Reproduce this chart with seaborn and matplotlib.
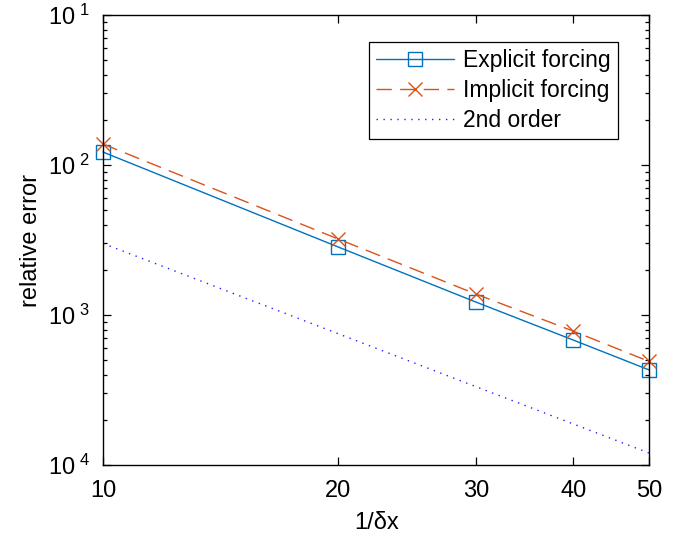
import numpy as np
import pandas as pd
import matplotlib
matplotlib.use("Agg")
import matplotlib.pyplot as plt
import matplotlib.ticker as mticker
import seaborn as sns

# grid resolution 1/dx
n_cells = [10, 20, 30, 40, 50]

# relative errors
explicit_err = [0.0122, 0.00284, 0.00122, 0.00068, 0.00043]
implicit_err = [0.0138, 0.00321, 0.00138, 0.00078, 0.00049]
second_order = [0.003, 0.00075, 0.000333, 0.0001875, 0.00012]

y_ticks = [1e-4, 1e-3, 1e-2, 1e-1]
y_tick_labels = [r"$\mathregular{10^{\ 4}}$", r"$\mathregular{10^{\ 3}}$",
                 r"$\mathregular{10^{\ 2}}$", r"$\mathregular{10^{\ 1}}$"]

sns.set_style("ticks")
plt.rcParams["font.family"] = ["Liberation Sans", "DejaVu Sans"]
plt.rcParams["mathtext.fontset"] = "custom"
plt.rcParams["mathtext.rm"] = "Liberation Sans"
plt.rcParams["xtick.direction"] = "in"
plt.rcParams["ytick.direction"] = "in"
for k in ["text.color", "axes.labelcolor", "xtick.color", "ytick.color", "axes.edgecolor"]:
    plt.rcParams[k] = "black"

df = pd.DataFrame({
    "n": n_cells * 3,
    "err": explicit_err + implicit_err + second_order,
    "series": ["Explicit forcing"] * 5 + ["Implicit forcing"] * 5 + ["2nd order"] * 5,
})

fig = plt.figure(figsize=(6.87, 5.48), dpi=100)
ax = fig.add_axes([0.150, 0.1515, 0.795, 0.821])

sns.lineplot(data=df[df.series == "Explicit forcing"], x="n", y="err", ax=ax,
             color="#0072BD", lw=1.0, marker="s", markersize=10,
             markerfacecolor="none", markeredgecolor="#0072BD", markeredgewidth=1.0,
             label="Explicit forcing", clip_on=False)
sns.lineplot(data=df[df.series == "Implicit forcing"], x="n", y="err", ax=ax,
             color="#D95319", lw=1.0, marker="x", markersize=10,
             markeredgecolor="#D95319", markeredgewidth=1.0, dashes=(11, 6),
             label="Implicit forcing", clip_on=False)
sns.lineplot(data=df[df.series == "2nd order"], x="n", y="err", ax=ax,
             color="#1f1fff", lw=1.0, dashes=(1, 4), label="2nd order")

ax.set_xscale("log")
ax.set_yscale("log")
ax.set_xlim(10, 50)
ax.set_ylim(1e-4, 1e-1)

ax.xaxis.set_major_locator(mticker.FixedLocator(n_cells))
ax.xaxis.set_major_formatter(mticker.FixedFormatter([str(v) for v in n_cells]))
ax.xaxis.set_minor_locator(mticker.LogLocator(base=10, subs=np.arange(2, 10)))
ax.xaxis.set_minor_formatter(mticker.NullFormatter())
ax.yaxis.set_major_locator(mticker.FixedLocator(y_ticks))
ax.yaxis.set_major_formatter(mticker.FixedFormatter(y_tick_labels))
ax.yaxis.set_minor_locator(mticker.LogLocator(base=10, subs=np.arange(2, 10)))
ax.yaxis.set_minor_formatter(mticker.NullFormatter())

ax.tick_params(which="both", top=True, right=True, labelsize=17, width=0.9)
ax.tick_params(which="major", length=6, pad=9)
ax.tick_params(axis="x", which="major", pad=11)
ax.tick_params(which="minor", length=3)
for s in ax.spines.values():
    s.set_linewidth(1.0)
    s.set_visible(True)

ax.set_xlabel("1/δx", fontsize=17, labelpad=7)
ax.set_ylabel("relative error", fontsize=17, labelpad=4)

leg = ax.legend(loc="upper right", bbox_to_anchor=(0.963, 0.965), fontsize=16.5,
                frameon=True, fancybox=False, edgecolor="black", framealpha=1,
                handlelength=3.4, handletextpad=0.4, borderpad=0.3, labelspacing=0.3)
leg.get_frame().set_linewidth(0.9)

fig.savefig("out.png", dpi=100)
